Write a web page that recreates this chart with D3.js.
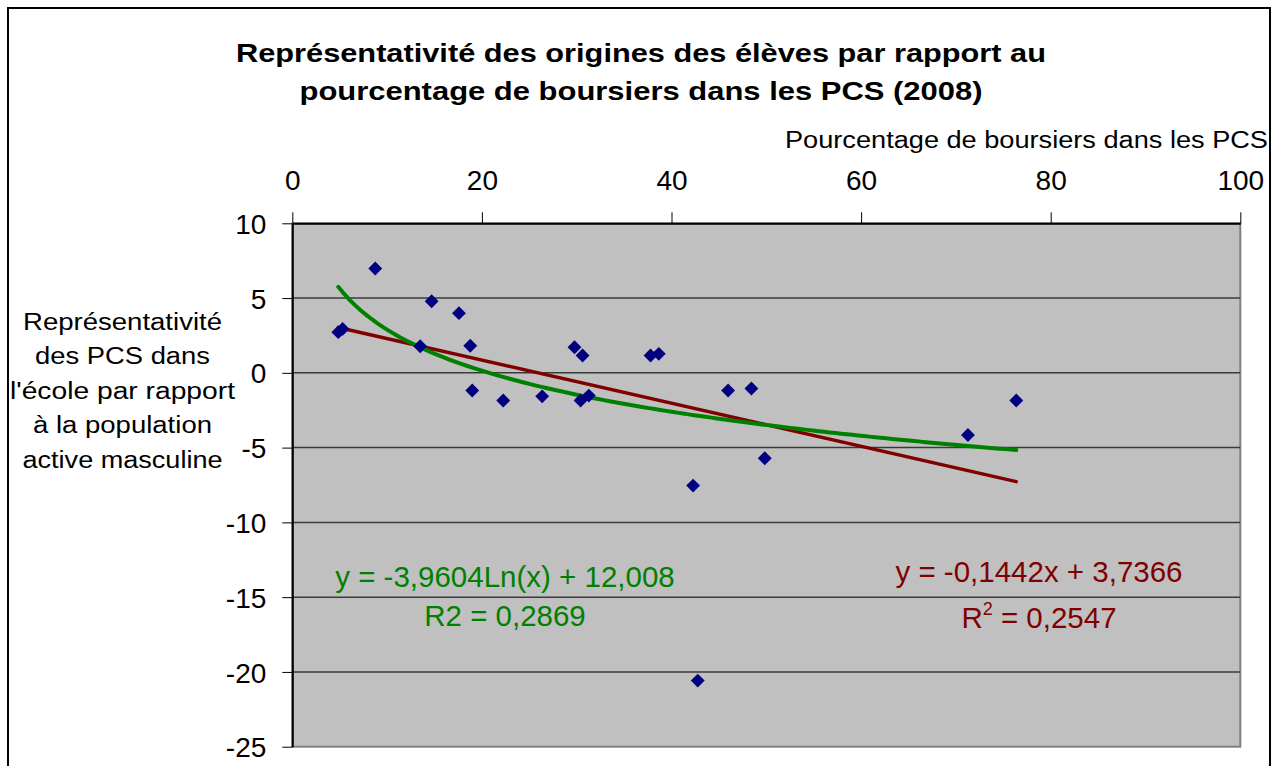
<!DOCTYPE html>
<html>
<head>
<meta charset="utf-8">
<script src="https://cdn.jsdelivr.net/npm/d3@7"></script>
<style>
  body { margin: 0; background: #fff; }
  svg { display: block; font-family: Arial, "Liberation Sans", sans-serif; }
</style>
</head>
<body>
<div id="chart"></div>
<script>
// pourcentage de boursiers dans la PCS
var boursiers = [4.85, 5.31, 8.75, 13.49, 14.70, 17.58, 18.77, 18.98, 22.25, 26.36,
    29.77, 30.62, 30.41, 31.28, 37.79, 38.66, 42.28, 42.77, 45.97, 48.43,
    49.84, 71.27, 76.37];
// représentativité des PCS dans l'école
var representativite = [2.72, 2.94, 6.98, 1.78, 4.79, 3.99, 1.81, -1.18, -1.85, -1.57,
    1.71, 1.16, -1.85, -1.52, 1.16, 1.27, -7.54, -20.58, -1.18, -1.05,
    -5.71, -4.16, -1.85];

var xTicks = [0, 20, 40, 60, 80, 100];
var yTicks = [10, 5, 0, -5, -10, -15, -20, -25];

// coefficients des courbes de tendance (Excel)
var linCoef = [-0.1442, 3.7366];
var logCoef = [-3.9604, 12.008];
var linLabel = ["y = -0,1442x + 3,7366", "0,2547"];
var logLabel = ["y = -3,9604Ln(x) + 12,008", "R2 = 0,2869"];

var titleLines = ["Représentativité des origines des élèves par rapport au",
    "pourcentage de boursiers dans les PCS (2008)"];
var xTitle = "Pourcentage de boursiers dans les PCS";
var yTitleLines = ["Représentativité", "des PCS dans", "l'école par rapport",
    "à la population", "active masculine"];

var width = 1278, height = 766;
var mLeft = 292.3, mRight = 1240.3, mTop = 223.3, mBottom = 746.7;

var svg = d3.select("#chart").append("svg")
    .attr("width", width)
    .attr("height", height);

// cadre du graphique
svg.append("rect")
    .attr("x", 8).attr("y", 8)
    .attr("width", 1262).attr("height", 800)
    .attr("fill", "#fff")
    .attr("stroke", "#000")
    .attr("stroke-width", 2);

var x = d3.scaleLinear().domain([0, 100]).range([mLeft, mRight]);
var y = d3.scaleLinear().domain([-25, 10]).range([mBottom, mTop]);

// zone de tracé
svg.append("rect")
    .attr("x", mLeft).attr("y", mTop)
    .attr("width", mRight - mLeft).attr("height", mBottom - mTop)
    .attr("fill", "#c0c0c0")
    .attr("stroke", "#808080")
    .attr("stroke-width", 2);

svg.append("g")
    .selectAll("line")
    .data(yTicks.filter(function (d) { return d < 10 && d > -25; }))
    .enter().append("line")
    .attr("x1", mLeft).attr("x2", mRight)
    .attr("y1", function (d) { return y(d); })
    .attr("y2", function (d) { return y(d); })
    .attr("stroke", "#3a3a3a")
    .attr("stroke-width", 1.5);

// axes
var xAxis = svg.append("g")
    .attr("transform", "translate(0," + mTop + ")")
    .call(d3.axisTop(x).tickValues(xTicks).tickSize(11).tickSizeOuter(0)
        .tickFormat(function (d) { return String(d); }));
xAxis.select(".domain").attr("stroke-width", 2);
xAxis.selectAll("text")
    .attr("y", -33).attr("dy", 0)
    .attr("fill", "#000")
    .style("font-size", "28px");

var yAxis = svg.append("g")
    .attr("transform", "translate(" + mLeft + ",0)")
    .call(d3.axisLeft(y).tickValues(yTicks).tickSize(10).tickSizeOuter(0)
        .tickFormat(function (d) { return String(d); }));
yAxis.select(".domain").attr("stroke-width", 2);
yAxis.selectAll("text")
    .attr("x", -26)
    .attr("dy", "0.36em")
    .attr("fill", "#000")
    .style("font-size", "28px");

// courbes de tendance
var xmin = d3.min(boursiers), xmax = d3.max(boursiers);

svg.append("path")
    .datum([xmin, xmax])
    .attr("fill", "none")
    .attr("stroke", "#800000")
    .attr("stroke-width", 3.5)
    .attr("stroke-linecap", "round")
    .attr("d", d3.line()
        .x(function (d) { return x(d); })
        .y(function (d) { return y(linCoef[0] * d + linCoef[1]); }));

var logXs = d3.range(0, 121).map(function (i) { return xmin + (xmax - xmin) * i / 120; });
svg.append("path")
    .datum(logXs)
    .attr("fill", "none")
    .attr("stroke", "#008000")
    .attr("stroke-width", 4)
    .attr("stroke-linecap", "round")
    .attr("d", d3.line()
        .x(function (d) { return x(d); })
        .y(function (d) { return y(logCoef[0] * Math.log(d) + logCoef[1]); }));

// points
svg.append("g")
    .selectAll("path")
    .data(boursiers)
    .enter().append("path")
    .attr("d", d3.symbol(d3.symbolSquare, 96))
    .attr("transform", function (d, i) {
        return "translate(" + x(d) + "," + y(representativite[i]) + ") rotate(45)";
    })
    .attr("fill", "#000080");

// titres (largeurs)
var titleWidths = [810, 683];
svg.append("g")
    .selectAll("text")
    .data(titleLines)
    .enter().append("text")
    .attr("x", 641)
    .attr("y", function (d, i) { return 62 + i * 37.5; })
    .attr("text-anchor", "middle")
    .attr("textLength", function (d, i) { return titleWidths[i]; })
    .attr("lengthAdjust", "spacingAndGlyphs")
    .style("font-size", "26px")
    .style("font-weight", "bold")
    .text(function (d) { return d; });

svg.append("text")
    .attr("x", 1268).attr("y", 148)
    .attr("text-anchor", "end")
    .attr("textLength", 483)
    .attr("lengthAdjust", "spacingAndGlyphs")
    .style("font-size", "23px")
    .text(xTitle);

var yTitleWidths = [199, 175, 225, 179, 200];
svg.append("g")
    .selectAll("text")
    .data(yTitleLines)
    .enter().append("text")
    .attr("x", 122.5)
    .attr("y", function (d, i) { return 329.5 + i * 34.6; })
    .attr("text-anchor", "middle")
    .attr("textLength", function (d, i) { return yTitleWidths[i]; })
    .attr("lengthAdjust", "spacingAndGlyphs")
    .style("font-size", "23.5px")
    .text(function (d) { return d; });

// équations
var logText = svg.append("g").attr("fill", "#008000").style("font-size", "29.5px");
logText.append("text").attr("x", 505).attr("y", 587)
    .attr("text-anchor", "middle").text(logLabel[0]);
logText.append("text").attr("x", 505).attr("y", 626)
    .attr("text-anchor", "middle").text(logLabel[1]);

var linText = svg.append("g").attr("fill", "#800000").style("font-size", "29.5px");
linText.append("text").attr("x", 1039).attr("y", 582)
    .attr("text-anchor", "middle").text(linLabel[0]);
var r2 = linText.append("text").attr("x", 1039).attr("y", 628)
    .attr("text-anchor", "middle");
r2.append("tspan").text("R");
r2.append("tspan").attr("dy", -13).style("font-size", "18px").text("2");
r2.append("tspan").attr("dy", 13).text(" = " + linLabel[1]);
</script>
</body>
</html>
